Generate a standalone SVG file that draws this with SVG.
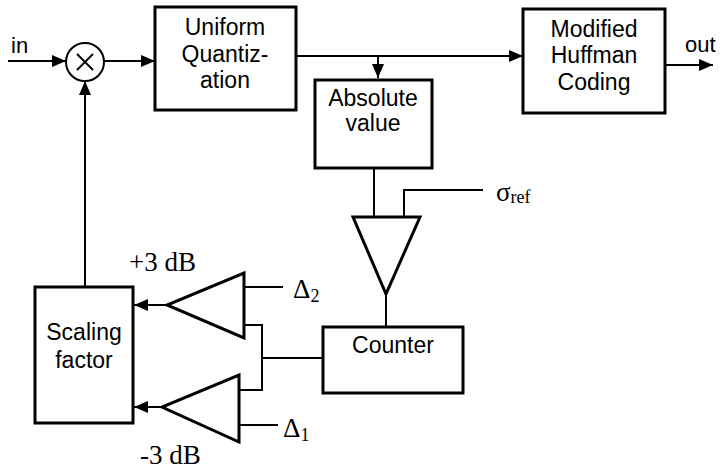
<svg xmlns="http://www.w3.org/2000/svg" width="720" height="473" viewBox="0 0 720 473">
<style>
.box{fill:#fff;stroke:#000;stroke-width:3}
.tri{fill:#fff;stroke:#000;stroke-width:3;stroke-linejoin:miter}
.ln{fill:none;stroke:#000;stroke-width:2}
.t{font-family:"Liberation Sans",Arial,sans-serif;font-size:23px;fill:#000;text-anchor:middle}
.io{font-family:"Liberation Sans",Arial,sans-serif;font-size:22px;fill:#000}
.s{font-family:"Liberation Serif","Times New Roman",serif;font-size:27px;fill:#000}
.sub{font-size:18px}
</style>
<defs>
<marker id="ar" markerWidth="14" markerHeight="12" refX="14" refY="6" orient="auto" markerUnits="userSpaceOnUse">
<path d="M0,0 L14,6 L0,12 Z" fill="#000"/>
</marker>
</defs>
<g id="connectors">
<line class="ln" x1="8" y1="61" x2="66" y2="61" marker-end="url(#ar)"/>
<line class="ln" x1="104" y1="61" x2="155" y2="61" marker-end="url(#ar)"/>
<line class="ln" x1="296" y1="56" x2="523" y2="56" marker-end="url(#ar)"/>
<line class="ln" x1="378" y1="56" x2="378" y2="78" marker-end="url(#ar)"/>
<line class="ln" x1="665" y1="65" x2="713" y2="65" marker-end="url(#ar)"/>
<line class="ln" x1="85" y1="287" x2="85" y2="81" marker-end="url(#ar)"/>
<line class="ln" x1="374" y1="168" x2="374" y2="217"/>
<polyline class="ln" points="404,217 404,190 483,190"/>
<line class="ln" x1="386" y1="294" x2="386" y2="327"/>
<line class="ln" x1="167" y1="305" x2="134" y2="305" marker-end="url(#ar)"/>
<line class="ln" x1="162" y1="407" x2="134" y2="407" marker-end="url(#ar)"/>
<line class="ln" x1="244" y1="287" x2="283" y2="287"/>
<line class="ln" x1="239" y1="425" x2="278" y2="425"/>
<polyline class="ln" points="244,325 262,325 262,390 239,390"/>
<line class="ln" x1="262" y1="358" x2="323" y2="358"/>
</g>
<g id="input"><text class="io" x="11" y="53">in</text></g>
<g id="multiplier">
<circle cx="85" cy="62" r="19" fill="#fff" stroke="#000" stroke-width="2"/>
<line class="ln" x1="77" y1="54" x2="93" y2="70"/>
<line class="ln" x1="93" y1="54" x2="77" y2="70"/>
</g>
<g id="quant">
<rect class="box" x="155" y="7" width="141" height="103"/>
<text class="t" x="225" y="35">Uniform</text>
<text class="t" x="225" y="62">Quantiz-</text>
<text class="t" x="225" y="88">ation</text>
</g>
<g id="huffman">
<rect class="box" x="523" y="9" width="142" height="104"/>
<text class="t" x="594" y="37">Modified</text>
<text class="t" x="594" y="63">Huffman</text>
<text class="t" x="594" y="90">Coding</text>
</g>
<g id="output"><text class="io" x="685" y="52">out</text></g>
<g id="absval">
<rect class="box" x="315" y="80" width="117" height="88"/>
<text class="t" x="373" y="106">Absolute</text>
<text class="t" x="373" y="131">value</text>
</g>
<g id="comparator">
<polygon class="tri" points="353,217 420,217 386,294"/>
</g>
<g id="sigmaref"><text class="s" x="496" y="201">σ<tspan class="sub" dy="2">ref</tspan></text></g>
<g id="counter">
<rect class="box" x="323" y="327" width="140" height="66"/>
<text class="t" x="393" y="353">Counter</text>
</g>
<g id="scaling">
<rect class="box" x="35" y="287" width="98" height="136"/>
<text class="t" x="84" y="340">Scaling</text>
<text class="t" x="84" y="368">factor</text>
</g>
<g id="amp_up">
<polygon class="tri" points="244,273 244,338 167,305"/>
</g>
<g id="amp_down">
<polygon class="tri" points="239,375 239,442 162,407"/>
</g>
<g id="labels">
<text class="s" x="129" y="271">+3 dB</text>
<text class="s" x="140" y="464">-3 dB</text>
<text class="s" x="293" y="298" font-size="26">Δ<tspan class="sub" dy="4">2</tspan></text>
<text class="s" x="283" y="437" font-size="26">Δ<tspan class="sub" dy="4">1</tspan></text>
</g>
</svg>
